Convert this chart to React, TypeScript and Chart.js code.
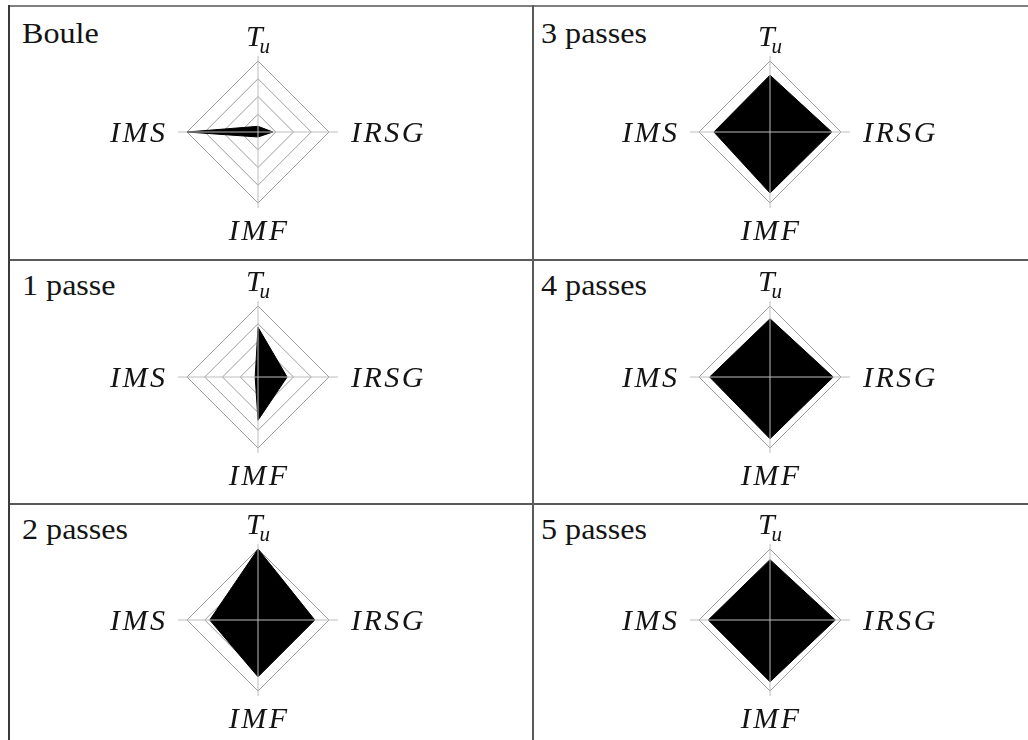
import React, { useEffect, useRef } from "react";
import { Chart, registerables } from "chart.js";

Chart.register(...registerables);

// ---------- data ----------
const axisLabels = ["T_u", "IRSG", "IMF", "IMS"];
const panelTitles = ["Boule", "1 passe", "2 passes", "3 passes", "4 passes", "5 passes"];
const bouleValues = [0.08, 0.21, 0.07, 1.0];
const passe1Values = [0.7, 0.41, 0.61, 0.04];
const passes2Values = [1.0, 0.8, 0.8, 0.68];
const passes3Values = [0.8, 0.87, 0.86, 0.79];
const passes4Values = [0.82, 0.89, 0.87, 0.85];
const passes5Values = [0.85, 0.92, 0.87, 0.87];
const scaleMin = 0;
const scaleMax = 1;
const scaleStep = 0.25;

const panelValues = [bouleValues, passe1Values, passes2Values, passes3Values, passes4Values, passes5Values];

// ---------- layout (style only) ----------
const colCenters = [258, 770];
const rowCenters = [132, 377, 620];
const titleLefts = [22, 541];
const titleBaselines = [43, 295, 539];
const CANVAS_W = 340;
const CANVAS_H = 240;
const RADIUS = 71;
const SERIF = '"Liberation Serif", "Times New Roman", Tinos, serif';
const LABEL_FONT = `italic 30px ${SERIF}`;
const SUB_FONT = `italic 21px ${SERIF}`;
const LABEL_SPACING = 2.5;
const labelGaps = [15, 22, 37, 22];
const angleExt = [5, 9, 5, 9];

function spacedWidth(ctx: CanvasRenderingContext2D, text: string, spacing: number) {
  let w = 0;
  for (let i = 0; i < text.length; i++) {
    w += ctx.measureText(text[i]).width;
    if (i < text.length - 1) w += spacing;
  }
  return w;
}

function drawSpaced(ctx: CanvasRenderingContext2D, text: string, x: number, y: number, spacing: number) {
  let cx = x;
  for (let i = 0; i < text.length; i++) {
    ctx.fillText(text[i], cx, y);
    cx += ctx.measureText(text[i]).width + spacing;
  }
}

const overlayPlugin = {
  id: "axesOverlay",
  afterDatasetsDraw(chart: any) {
    const scale = chart.scales.r;
    const ctx: CanvasRenderingContext2D = chart.ctx;
    const labels: string[] = chart.data.labels;
    const n = labels.length;
    const r = scale.drawingArea;
    ctx.save();
    ctx.strokeStyle = "#bdbdbd";
    ctx.lineWidth = 1;
    for (let i = 0; i < n; i++) {
      const p = scale.getPointPosition(i, r + angleExt[i % angleExt.length]);
      ctx.beginPath();
      ctx.moveTo(scale.xCenter, scale.yCenter);
      ctx.lineTo(p.x, p.y);
      ctx.stroke();
    }
    ctx.fillStyle = "#141414";
    ctx.textAlign = "left";
    ctx.textBaseline = "alphabetic";
    for (let i = 0; i < n; i++) {
      const label = labels[i];
      const p = scale.getPointPosition(i, r + labelGaps[i % labelGaps.length]);
      const dx = p.x - scale.xCenter;
      const parts = label.split("_");
      const main = parts[0];
      const sub = parts[1] || "";
      const spacing = sub ? 0 : LABEL_SPACING;
      ctx.font = LABEL_FONT;
      const wMain = spacedWidth(ctx, main, spacing);
      ctx.font = SUB_FONT;
      const wSub = sub ? ctx.measureText(sub).width : 0;
      const total = wMain + (sub ? wSub - 3 : 0);
      let x: number;
      let y: number;
      if (Math.abs(dx) < 1) {
        x = p.x - total / 2;
        y = p.y;
      } else if (dx > 0) {
        x = p.x;
        y = p.y + 10;
      } else {
        x = p.x - total;
        y = p.y + 10;
      }
      ctx.font = LABEL_FONT;
      drawSpaced(ctx, main, x, y, spacing);
      if (sub) {
        ctx.font = SUB_FONT;
        ctx.fillText(sub, x + wMain - 3, y + 7);
      }
    }
    ctx.restore();
  },
};

function RadarPanel({ values, cx, cy }: { values: number[]; cx: number; cy: number }) {
  const ref = useRef<HTMLCanvasElement | null>(null);
  useEffect(() => {
    if (!ref.current) return;
    const padX = CANVAS_W / 2 - RADIUS;
    const padY = CANVAS_H / 2 - RADIUS;
    let alive = true;
    const chart = new Chart(ref.current, {
      type: "radar",
      data: {
        labels: axisLabels,
        datasets: [
          {
            data: values,
            backgroundColor: "#000000",
            borderColor: "#000000",
            borderWidth: 1,
            pointRadius: 0,
            fill: true,
          },
        ],
      },
      options: {
        responsive: false,
        animation: false,
        layout: { padding: { left: padX, right: padX, top: padY, bottom: padY } },
        plugins: { legend: { display: false }, tooltip: { enabled: false }, title: { display: false } },
        scales: {
          r: {
            min: scaleMin,
            max: scaleMax,
            ticks: { display: false, stepSize: scaleStep },
            grid: { color: "#9c9c9c", lineWidth: 1 },
            angleLines: { display: false },
            pointLabels: { display: false },
          },
        },
      } as any,
      plugins: [overlayPlugin as any],
    });
    const fonts = (document as any).fonts;
    if (fonts && fonts.load) {
      Promise.all([fonts.load(LABEL_FONT), fonts.load(SUB_FONT), fonts.load(`30px ${SERIF}`)])
        .then(() => {
          if (alive) chart.update("none");
        })
        .catch(() => {});
    }
    return () => {
      alive = false;
      chart.destroy();
    };
  }, [values]);
  return (
    <canvas
      ref={ref}
      width={CANVAS_W}
      height={CANVAS_H}
      style={{
        position: "absolute",
        left: cx - CANVAS_W / 2,
        top: cy - CANVAS_H / 2,
        width: CANVAS_W,
        height: CANVAS_H,
      }}
    />
  );
}

const lineColor = "#5a5a5a";

export default function App() {
  const panels = panelTitles.map((title, k) => {
    const col = k < 3 ? 0 : 1;
    const row = k % 3;
    return { title, values: panelValues[k], col, row };
  });
  return (
    <div
      style={{
        position: "absolute",
        left: 0,
        top: 0,
        width: 1028,
        height: 740,
        overflow: "hidden",
        background: "#ffffff",
        fontFamily: SERIF,
      }}
    >
      <div style={{ position: "absolute", left: 8, top: 5, width: 1020, height: 2, background: "#808080" }} />
      <div style={{ position: "absolute", left: 8, top: 259, width: 1020, height: 2, background: lineColor }} />
      <div style={{ position: "absolute", left: 8, top: 503, width: 1020, height: 2, background: lineColor }} />
      <div style={{ position: "absolute", left: 8, top: 5, width: 2, height: 735, background: "#3a3a3a" }} />
      <div style={{ position: "absolute", left: 532, top: 5, width: 2, height: 735, background: lineColor }} />
      {panels.map((p, k) => (
        <React.Fragment key={k}>
          <div
            style={{
              position: "absolute",
              left: titleLefts[p.col],
              top: titleBaselines[p.row] - 25,
              fontFamily: SERIF,
              fontSize: 30,
              lineHeight: "30px",
              color: "#141414",
              whiteSpace: "nowrap",
              transform: "scaleX(1.07)",
              transformOrigin: "left top",
            }}
          >
            {p.title}
          </div>
          <RadarPanel values={p.values} cx={colCenters[p.col]} cy={rowCenters[p.row]} />
        </React.Fragment>
      ))}
    </div>
  );
}
